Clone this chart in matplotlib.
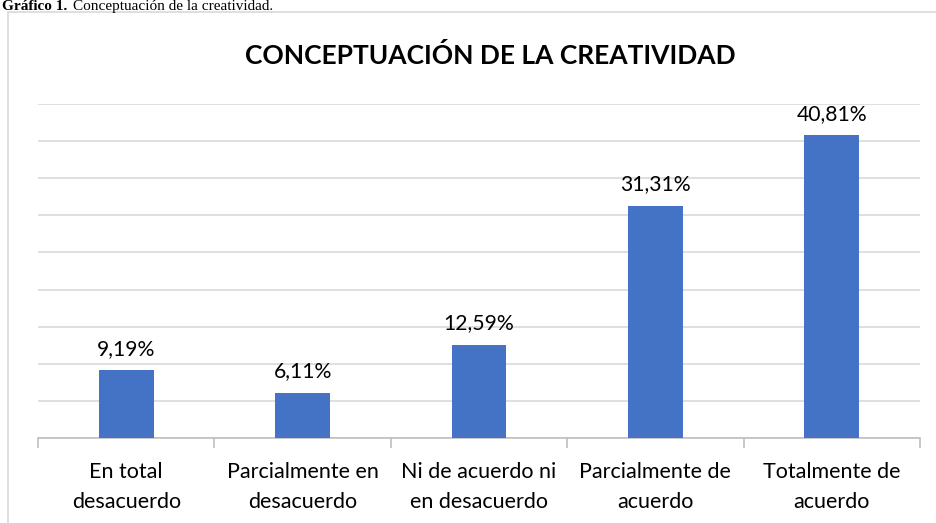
import numpy as np
import matplotlib
matplotlib.use("Agg")
from matplotlib import pyplot as plt
from matplotlib.patches import Rectangle

categorias = ["En total\ndesacuerdo", "Parcialmente en\ndesacuerdo", "Ni de acuerdo ni\nen desacuerdo",
              "Parcialmente de\nacuerdo", "Totalmente de\nacuerdo"]
valores = [9.19, 6.11, 12.59, 31.31, 40.81]
etiquetas = ["9,19%", "6,11%", "12,59%", "31,31%", "40,81%"]

plt.rcParams['font.family'] = ['Lato', 'DejaVu Sans']

fig = plt.figure(figsize=(9.37, 5.23), dpi=100)
# marco del grafico
fig.patches.append(Rectangle((8/937, -0.01), 1.0, 1 - 12/523 + 0.01, transform=fig.transFigure,
                             fill=False, edgecolor='#D9D9D9', linewidth=1.2))
# pie de figura arriba
fig.text(0.002, 1 - 10/523, "Gráfico 1.", family='Liberation Serif', weight='bold', fontsize=11, va='baseline')
fig.text(0.078, 1 - 10/523, "Conceptuación de la creatividad.", family='Liberation Serif', fontsize=11, va='baseline')

ax = fig.add_axes([38/937, 1 - 438/523, (920 - 38)/937, (438 - 104)/523])
x = np.arange(len(valores))
ax.bar(x, valores, width=0.31, color='#4472C4', zorder=3)
for xi, v, t in zip(x, valores, etiquetas):
    ax.annotate(t, (xi, v), xytext=(0, 8), textcoords='offset points', ha='center', va='bottom',
                fontsize=15.2, color='#000000')

ax.set_xlim(-0.5, 4.5)
ax.set_ylim(0, 45)
ax.set_yticks(np.arange(0, 46, 5))
ax.yaxis.grid(True, color='#D9D9D9', linewidth=1.2, zorder=0)
ax.tick_params(axis='y', length=0, labelleft=False)
for s in ['top', 'right', 'left']:
    ax.spines[s].set_visible(False)
ax.spines['bottom'].set_color('#BFBFBF')
ax.spines['bottom'].set_linewidth(1.2)

ax.set_xticks(x)
ax.set_xticklabels(categorias, fontsize=15.5, linespacing=1.62)
ax.tick_params(axis='x', which='major', length=0, pad=17)
ax.set_xticks(np.arange(-0.5, 5, 1), minor=True)
ax.tick_params(axis='x', which='minor', length=7, color='#BFBFBF', width=1.2)

fig.text(0.523, 1 - 55/523, "CONCEPTUACIÓN DE LA CREATIVIDAD", ha='center', va='center',
         fontsize=19, weight='bold')

fig.savefig("out.png", dpi=100)
